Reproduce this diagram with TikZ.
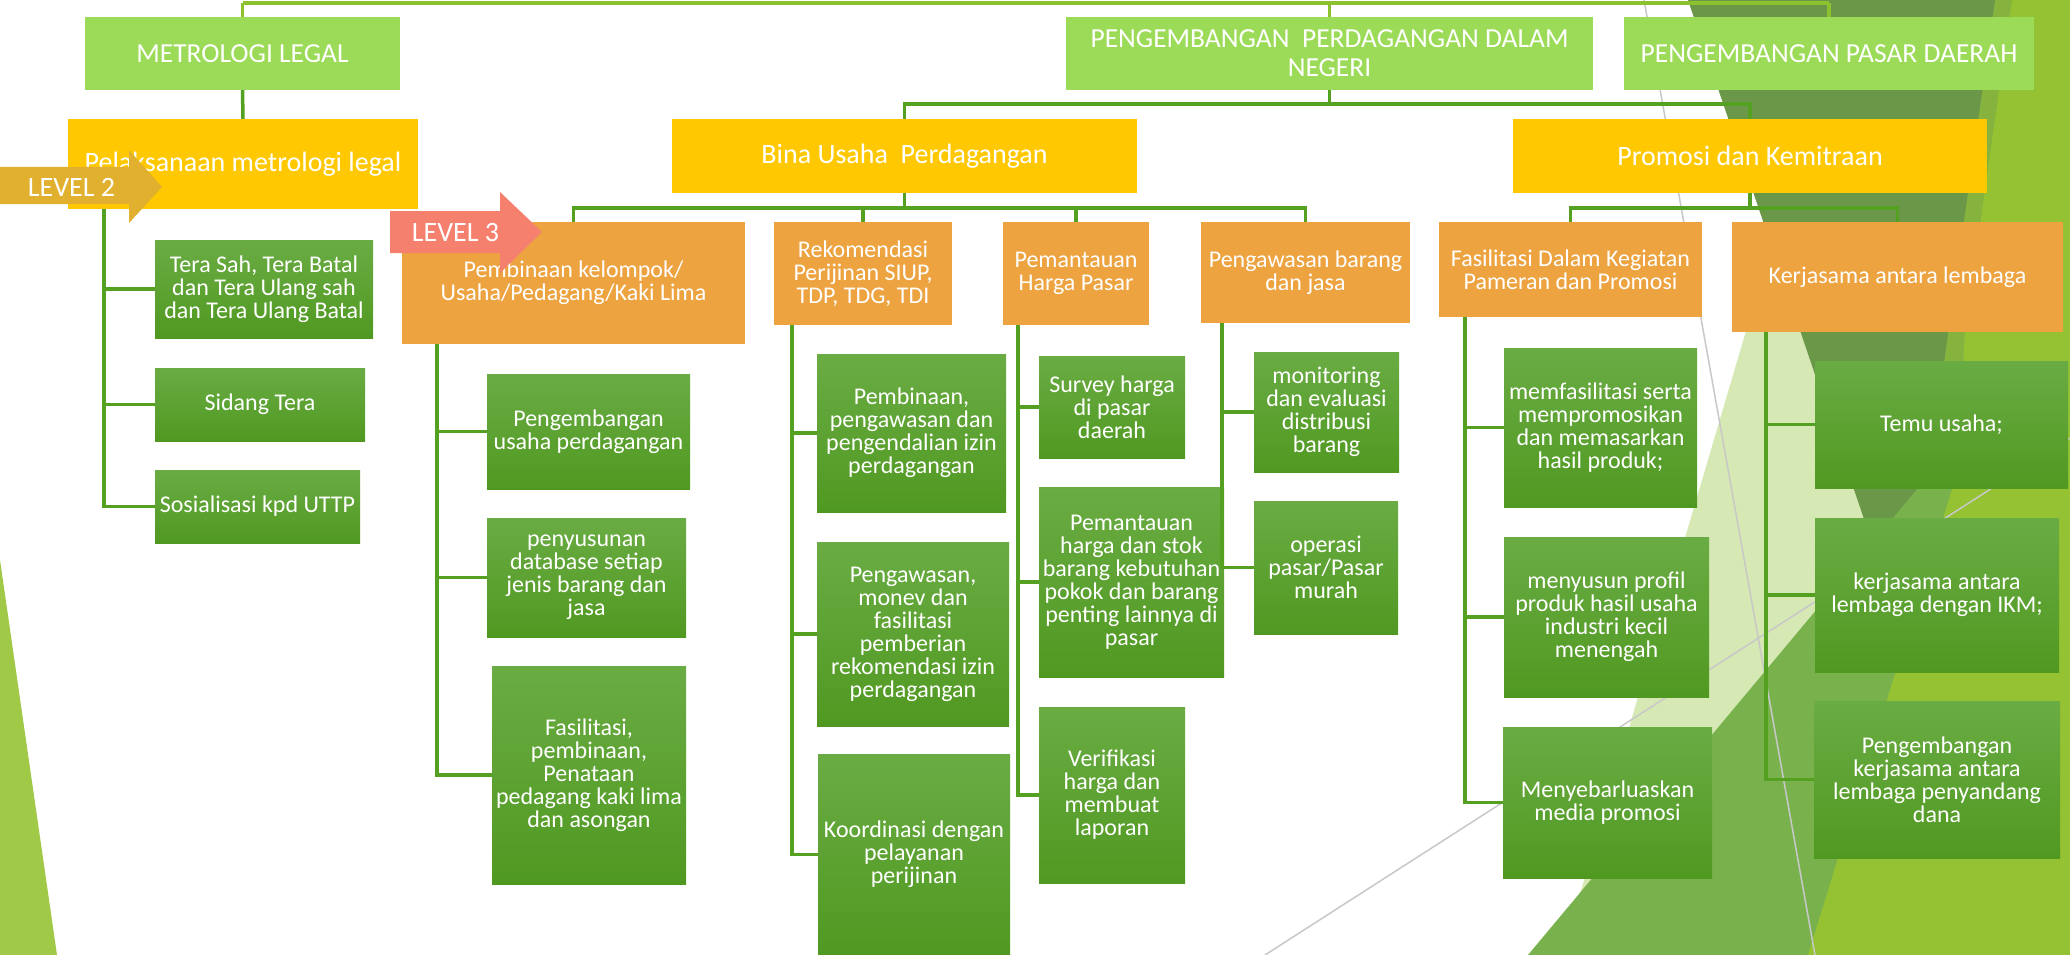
\documentclass[tikz,border=0pt]{standalone}
\usepackage{fontspec}
\setmainfont{Carlito}
\usetikzlibrary{calc}

\definecolor{lonegreen}{RGB}{156,219,88}
\definecolor{ltwoyellow}{RGB}{255,200,0}
\definecolor{lthreeorange}{RGB}{237,163,64}
\definecolor{lfourtop}{RGB}{106,172,68}
\definecolor{lfourmid}{RGB}{86,158,40}
\definecolor{lfourbot}{RGB}{80,153,33}
\definecolor{linegreen}{RGB}{84,161,34}
\definecolor{toplinegreen}{RGB}{141,193,46}
\definecolor{levelgold}{RGB}{224,176,46}
\definecolor{levelsalmon}{RGB}{245,128,110}
\definecolor{facetpale}{RGB}{214,232,180}
\definecolor{facetolive}{RGB}{134,179,62}
\definecolor{facetdark}{RGB}{107,151,72}
\definecolor{facetmid}{RGB}{121,178,77}
\definecolor{facetlime}{RGB}{148,194,50}
\definecolor{facetgray}{RGB}{200,200,200}
\definecolor{sliver}{RGB}{161,201,72}

\tikzset{
  lone/.style={fill=lonegreen, text=white, align=center, inner sep=0pt,
    font=\fontsize{27.5}{29}\selectfont},
  ltwo/.style={fill=ltwoyellow, text=white, align=center, inner sep=0pt,
    font=\fontsize{28}{29}\selectfont},
  lthree/.style={fill=lthreeorange, text=white, align=center, inner sep=0pt,
    font=\fontsize{24}{23}\selectfont},
  lfour/.style={top color=lfourtop, middle color=lfourmid, bottom color=lfourbot,
    text=white, align=center, inner sep=0pt, font=\fontsize{24}{23}\selectfont},
  conn/.style={draw=linegreen, line width=3.5pt},
  topconn/.style={draw=toplinegreen, line width=3.5pt},
  lvltext/.style={text=white, inner sep=0pt, font=\fontsize{28}{28}\selectfont}
}

\begin{document}
\begin{tikzpicture}[x=1pt,y=-1pt]
\clip (0,0) rectangle (2070,955);
\fill[white] (0,0) rectangle (2070,955);

% background facets
\fill[facetpale] (1820,80) -- (1905,640) -- (1562,955) -- cycle;
\fill[facetolive] (1930,0) -- (2015,0) -- (1960,420) -- (1925,420) -- cycle;
\fill[facetdark] (1688,0) -- (1995,0) -- (1905,640) -- cycle;
\fill[facetmid] (1528,955) -- (2000,390) -- (2070,390) -- (2070,955) -- cycle;
\fill[facetlime] (1808,955) -- (1958,470) -- (1965,330) -- (2012,0)
  -- (2070,0) -- (2070,955) -- cycle;
\draw[facetgray, line width=1.5] (1644,0) -- (1815,955);
\draw[facetgray, line width=1.5] (1265,955) -- (2070,438);
\fill[sliver] (0,560) -- (57,955) -- (0,955) -- cycle;

% level 1
\node[lone, minimum width=315, minimum height=73] (Metro) at (242.5,53.5) {METROLOGI LEGAL};
\node[lone, minimum width=527, minimum height=73] (PDN) at (1329.5,53.5)
  {PENGEMBANGAN\ \ PERDAGANGAN DALAM\\NEGERI};
\node[lone, minimum width=410, minimum height=73] (PD) at (1829,53.5) {PENGEMBANGAN PASAR DAERAH};

% level 2
\node[ltwo, minimum width=350, minimum height=90] (Pel) at (243,164) {Pelaksanaan metrologi legal};
\node[ltwo, minimum width=465, minimum height=74] (Bina) at (904.5,156) {Bina Usaha\ \ Perdagangan};
\node[ltwo, minimum width=474, minimum height=74] (Prom) at (1750,156) {Promosi dan Kemitraan};

% level 3
\node[lthree, minimum width=343, minimum height=122] (Bk) at (573.5,283)
  {Pembinaan kelompok/\\Usaha/Pedagang/Kaki Lima};
\node[lthree, minimum width=178, minimum height=103] (Rek) at (863,273.5)
  {Rekomendasi\\Perijinan SIUP,\\TDP, TDG, TDI};
\node[lthree, minimum width=146, minimum height=103] (Hp) at (1076,273.5) {Pemantauan\\Harga Pasar};
\node[lthree, minimum width=209, minimum height=101] (Pbj) at (1305.5,272.5) {Pengawasan barang\\dan jasa};
\node[lthree, minimum width=263, minimum height=95] (Fas) at (1570.5,269.5)
  {Fasilitasi Dalam Kegiatan\\Pameran dan Promosi};
\node[lthree, minimum width=331, minimum height=110] (Kl) at (1897.5,277) {Kerjasama antara lembaga};

% level 4
\node[lfour, minimum width=218, minimum height=98] (Pel1) at (264,289)
  {Tera Sah, Tera Batal\\dan Tera Ulang sah\\dan Tera Ulang Batal};
\node[lfour, minimum width=210, minimum height=73] (Pel2) at (260,404.5) {Sidang Tera};
\node[lfour, minimum width=205, minimum height=73] (Pel3) at (257.5,506.5) {Sosialisasi kpd UTTP};

\node[lfour, minimum width=203, minimum height=115] (Bk1) at (588.5,431.5)
  {Pengembangan\\usaha perdagangan};
\node[lfour, minimum width=199, minimum height=119] (Bk2) at (586.5,577.5)
  {penyusunan\\database setiap\\jenis barang dan\\jasa};
\node[lfour, minimum width=194, minimum height=218] (Bk3) at (589,775)
  {Fasilitasi,\\pembinaan,\\Penataan\\pedagang kaki lima\\dan asongan};

\node[lfour, minimum width=189, minimum height=158] (Rek1) at (911.5,433)
  {Pembinaan,\\pengawasan dan\\pengendalian izin\\perdagangan};
\node[lfour, minimum width=192, minimum height=184] (Rek2) at (913,634)
  {Pengawasan,\\monev dan\\fasilitasi\\pemberian\\rekomendasi izin\\perdagangan};
\node[lfour, minimum width=192, minimum height=201] (Rek3) at (914,854.5)
  {Koordinasi dengan\\pelayanan\\perijinan};

\node[lfour, minimum width=146, minimum height=102] (Hp1) at (1112,407) {Survey harga\\di pasar\\daerah};
\node[lfour, minimum width=185, minimum height=190] (Hp2) at (1131.5,582)
  {Pemantauan\\harga dan stok\\barang kebutuhan\\pokok dan barang\\penting lainnya di\\pasar};
\node[lfour, minimum width=146, minimum height=176] (Hp3) at (1112,795)
  {Verifikasi\\harga dan\\membuat\\laporan};

\node[lfour, minimum width=145, minimum height=120] (Pbj1) at (1326.5,412)
  {monitoring\\dan evaluasi\\distribusi\\barang};
\node[lfour, minimum width=144, minimum height=133] (Pbj2) at (1326,567.5) {operasi\\pasar/Pasar\\murah};

\node[lfour, minimum width=193, minimum height=159] (Fas1) at (1600.5,427.5)
  {memfasilitasi serta\\mempromosikan\\dan memasarkan\\hasil produk;};
\node[lfour, minimum width=205, minimum height=160] (Fas2) at (1606.5,617)
  {menyusun profil\\produk hasil usaha\\industri kecil\\menengah};
\node[lfour, minimum width=209, minimum height=151] (Fas3) at (1607.5,802.5)
  {Menyebarluaskan\\media promosi};

\node[lfour, minimum width=253, minimum height=127] (Kl1) at (1941.5,424.5) {Temu usaha;};
\node[lfour, minimum width=244, minimum height=154] (Kl2) at (1937,595)
  {kerjasama antara\\lembaga dengan IKM;};
\node[lfour, minimum width=246, minimum height=157] (Kl3) at (1937,779.5)
  {Pengembangan\\kerjasama antara\\lembaga penyandang\\dana};

% connectors
\coordinate (rootbus) at (0,3);
\draw[topconn] (Metro.north |- rootbus) -- (PD.north |- rootbus);
\foreach \n in {Metro,PDN,PD}
  \draw[topconn] (\n.north) -- (\n.north |- rootbus);

\draw[conn] (Metro.south) -- (Pel.north);
\foreach \n in {Bina,Prom}
  \draw[conn] (PDN.south) -- ++(0,14) -| (\n.north);
\foreach \n in {Bk,Rek,Hp,Pbj}
  \draw[conn] (Bina.south) -- ++(0,15) -| (\n.north);
\foreach \n in {Fas,Kl}
  \draw[conn] (Prom.south) -- ++(0,15) -| (\n.north);

\coordinate (pelbus) at (104,0);
\coordinate (bkbus) at (437,0);
\coordinate (rekbus) at (792,0);
\coordinate (hpbus) at (1018,0);
\coordinate (pbjbus) at (1222,0);
\coordinate (fasbus) at (1465,0);
\coordinate (klbus) at (1766,0);
\foreach \i in {1,2,3} {
  \draw[conn] (Pel.south -| pelbus) |- (Pel\i.west);
  \draw[conn] (Bk.south -| bkbus) |- (Bk\i.west);
  \draw[conn] (Rek.south -| rekbus) |- (Rek\i.west);
  \draw[conn] (Hp.south -| hpbus) |- (Hp\i.west);
  \draw[conn] (Fas.south -| fasbus) |- (Fas\i.west);
  \draw[conn] (Kl.south -| klbus) |- (Kl\i.west);
}
\foreach \i in {1,2}
  \draw[conn] (Pbj.south -| pbjbus) |- (Pbj\i.west);

% level markers
\fill[levelgold] (0,167) -- (129,167) -- (129,150) -- (162,187) -- (129,223)
  -- (129,204) -- (0,204) -- cycle;
\node[lvltext] (lvltwo) at (71.5,187) {LEVEL 2};
\fill[levelsalmon] (390,211) -- (500,211) -- (500,192) -- (542,232) -- (500,273)
  -- (500,253) -- (390,253) -- cycle;
\node[lvltext] (lvlthree) at (455.5,233) {LEVEL 3};

\end{tikzpicture}
\end{document}
